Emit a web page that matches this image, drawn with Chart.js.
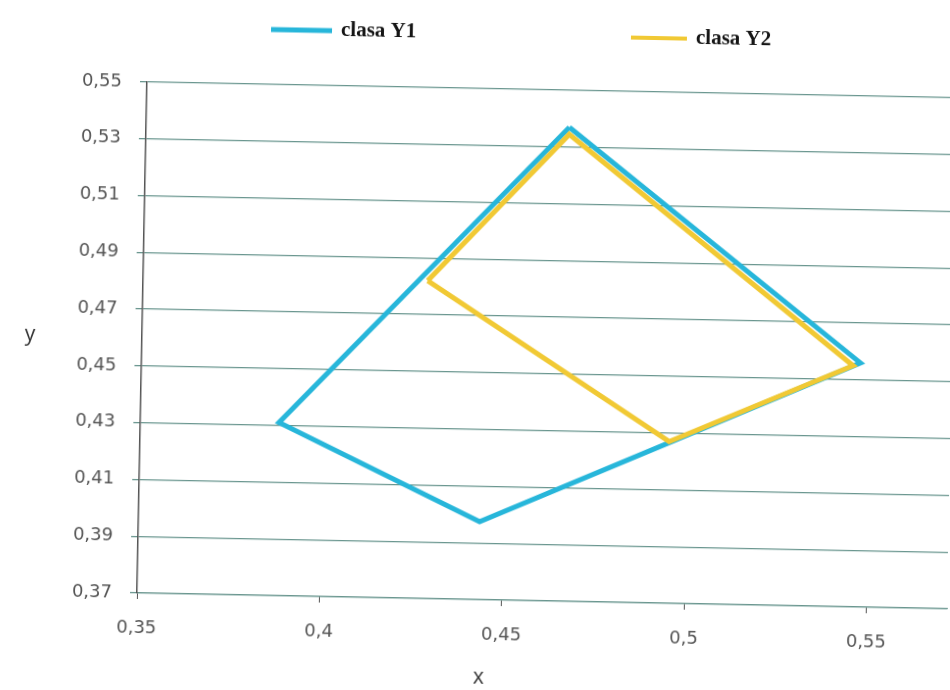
<!DOCTYPE html>
<html>
<head>
<meta charset="utf-8">
<script src="https://cdn.jsdelivr.net/npm/chart.js@4.4.1/dist/chart.umd.min.js"></script>
<style>
  html, body { margin: 0; padding: 0; background: #fff; overflow: hidden; width: 950px; height: 690px; }
  #wrap { position: absolute; left: 0; top: 0; width: 950px; height: 690px;
          transform-origin: 137px 593px; transform: rotate(1.12deg); }
  canvas { display: block; }
</style>
</head>
<body>
<div id="wrap"><canvas id="c" width="950" height="690"></canvas></div>
<script>
// Series: closed quadrilaterals (first point repeated at the end)
const seriesNames = ['clasa Y1', 'clasa Y2'];
const y1X = [0.466, 0.547, 0.4435, 0.388, 0.466];
const y1Y = [0.537, 0.456, 0.3975, 0.431, 0.537];
const y2X = [0.428, 0.466, 0.545, 0.495, 0.428];
const y2Y = [0.482, 0.5345, 0.455, 0.427, 0.482];

// Axis ticks
const xTicks = [0.35, 0.4, 0.45, 0.5, 0.55];
const yTicks = [0.37, 0.39, 0.41, 0.43, 0.45, 0.47, 0.49, 0.51, 0.53, 0.55];

const CYAN = '#27b6da';
const YELLOW = '#f1c934';
const GRID = '#6a968f';
const TICK_FONT = { family: '"DejaVu Sans", sans-serif', size: 18 };

const fmt = v => String(Math.round(v * 100) / 100).replace('.', ',');
const pts = (xs, ys) => xs.map((x, i) => ({ x, y: ys[i] }));

// Axis titles and a free-standing legend row
const decor = {
  id: 'decor',
  afterDraw(chart) {
    const { ctx, chartArea } = chart;
    ctx.save();
    ctx.fillStyle = '#333';
    ctx.font = '21px "Open Sans", sans-serif';
    ctx.textAlign = 'center';
    ctx.textBaseline = 'middle';
    ctx.fillText('y', 25, (chartArea.top + chartArea.bottom) / 2);
    ctx.fillText('x', 480, 671);

    const slots = [{ x: 260, y: 27, len: 61, w: 5 }, { x: 620, y: 28, len: 56, w: 4 }];
    ctx.font = 'bold 21px "Liberation Serif", serif';
    ctx.textAlign = 'left';
    chart.data.datasets.forEach((ds, i) => {
      const s = slots[i];
      ctx.strokeStyle = ds.borderColor;
      ctx.lineWidth = s.w;
      ctx.beginPath();
      ctx.moveTo(s.x, s.y);
      ctx.lineTo(s.x + s.len, s.y);
      ctx.stroke();
      ctx.fillStyle = '#151515';
      ctx.fillText(ds.label, s.x + s.len + 9, s.y);
    });
    ctx.restore();
  }
};

new Chart(document.getElementById('c'), {
  type: 'scatter',
  data: {
    datasets: [
      { label: seriesNames[0], data: pts(y1X, y1Y), showLine: true, borderColor: CYAN,
        backgroundColor: CYAN, borderWidth: 5, pointRadius: 0, order: 1 },
      { label: seriesNames[1], data: pts(y2X, y2Y), showLine: true, borderColor: YELLOW,
        backgroundColor: YELLOW, borderWidth: 5, pointRadius: 0, order: 0 }
    ]
  },
  options: {
    responsive: false,
    animation: false,
    layout: { padding: { top: 82, right: 3, left: 0, bottom: 0 } },
    plugins: { legend: { display: false }, tooltip: { enabled: false } },
    scales: {
      x: {
        type: 'linear', min: 0.35, max: 0.572,
        afterBuildTicks: s => { s.ticks = xTicks.map(v => ({ value: v })); },
        afterFit: s => { s.height = 97; },
        grid: { drawOnChartArea: false, drawTicks: true, tickLength: 6, color: '#555', lineWidth: 1 },
        border: { color: GRID, width: 1.3 },
        ticks: { padding: 19, color: '#555', font: TICK_FONT, callback: v => fmt(v), maxRotation: 0 }
      },
      y: {
        type: 'linear', min: 0.37, max: 0.55,
        afterBuildTicks: s => { s.ticks = yTicks.map(v => ({ value: v })); },
        afterFit: s => { s.width = 137; },
        grid: { color: GRID, lineWidth: 1.3, tickLength: 7 },
        border: { color: '#555', width: 1.5 },
        ticks: { padding: 18, color: '#555', font: TICK_FONT, callback: v => fmt(v) }
      }
    }
  },
  plugins: [decor]
});
</script>
</body>
</html>
